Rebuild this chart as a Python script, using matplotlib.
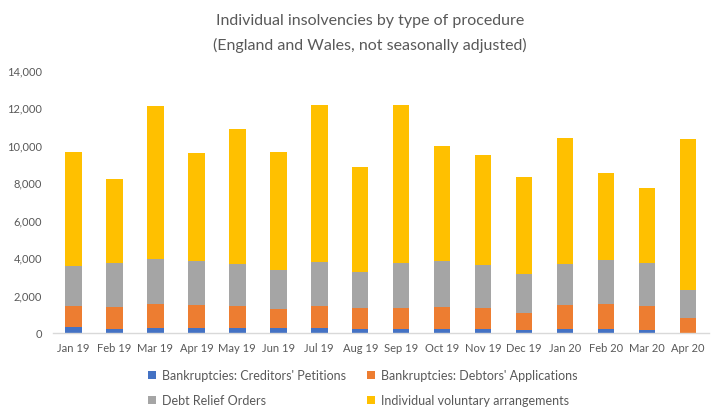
import matplotlib
matplotlib.use("Agg")
import matplotlib.pyplot as plt
import numpy as np
from matplotlib.ticker import FuncFormatter, MultipleLocator
from matplotlib.patches import Patch

months = ["Jan 19", "Feb 19", "Mar 19", "Apr 19", "May 19", "Jun 19", "Jul 19", "Aug 19",
          "Sep 19", "Oct 19", "Nov 19", "Dec 19", "Jan 20", "Feb 20", "Mar 20", "Apr 20"]
creditors = [340, 210, 270, 270, 270, 270, 270, 210, 210, 210, 210, 160, 210, 210, 160, 20]
debtors = [1100, 1200, 1280, 1220, 1170, 1010, 1170, 1120, 1120, 1200, 1120, 910, 1280, 1340, 1280, 780]
dro = [2140, 2330, 2400, 2350, 2240, 2080, 2350, 1930, 2410, 2430, 2300, 2080, 2190, 2350, 2300, 1500]
iva = [6080, 4480, 8170, 5770, 7210, 6300, 8380, 5600, 8430, 6140, 5870, 5180, 6730, 4640, 4000, 8060]

series_names = ["Bankruptcies: Creditors' Petitions", "Bankruptcies: Debtors' Applications",
                "Debt Relief Orders", "Individual voluntary arrangements"]
colors = ["#4472C4", "#ED7D31", "#A5A5A5", "#FFC000"]

plt.rcParams['font.family'] = ['Lato', 'DejaVu Sans']
text_color = "#595959"

fig = plt.figure(figsize=(7.23, 4.2), dpi=100)
ax = fig.add_axes([0.0733, 0.207, 0.9067, 0.6247])

x = np.arange(len(months))
bottom = np.zeros(len(months))
for vals, c in zip([creditors, debtors, dro, iva], colors):
    ax.bar(x, vals, width=0.4, bottom=bottom, color=c, edgecolor='none', zorder=2)
    bottom += np.array(vals)

ax.set_xlim(-0.5, len(months) - 0.5)
ax.set_ylim(0, 14000)
ax.yaxis.set_major_locator(MultipleLocator(2000))
ax.yaxis.set_major_formatter(FuncFormatter(lambda v, p: f"{int(v):,}"))
ax.set_xticks(x)
ax.set_xticklabels(months)
ax.tick_params(axis='both', length=0, labelsize=8, colors=text_color)
ax.tick_params(axis='y', pad=8)
ax.tick_params(axis='x', pad=7)
for s in ['top', 'right', 'left']:
    ax.spines[s].set_visible(False)
ax.spines['bottom'].set_color('#D9D9D9')
ax.spines['bottom'].set_linewidth(1)

fig.text(0.512, 0.950, "Individual insolvencies by type of procedure", ha='center', va='center',
         fontsize=11.5, color=text_color)
fig.text(0.512, 0.891, "(England and Wales, not seasonally adjusted)", ha='center', va='center',
         fontsize=11.5, color=text_color)

order = [0, 2, 1, 3]
handles = [Patch(facecolor=colors[i], edgecolor='none') for i in order]
labels = [series_names[i] for i in order]
leg = fig.legend(handles, labels, loc='center', bbox_to_anchor=(0.502, 0.076), ncol=2,
                 frameon=False, fontsize=9, handlelength=0.6, handleheight=0.6,
                 handletextpad=0.5, columnspacing=1.7, labelspacing=1.05)
for t in leg.get_texts():
    t.set_color(text_color)

fig.savefig("out.png", dpi=100)
